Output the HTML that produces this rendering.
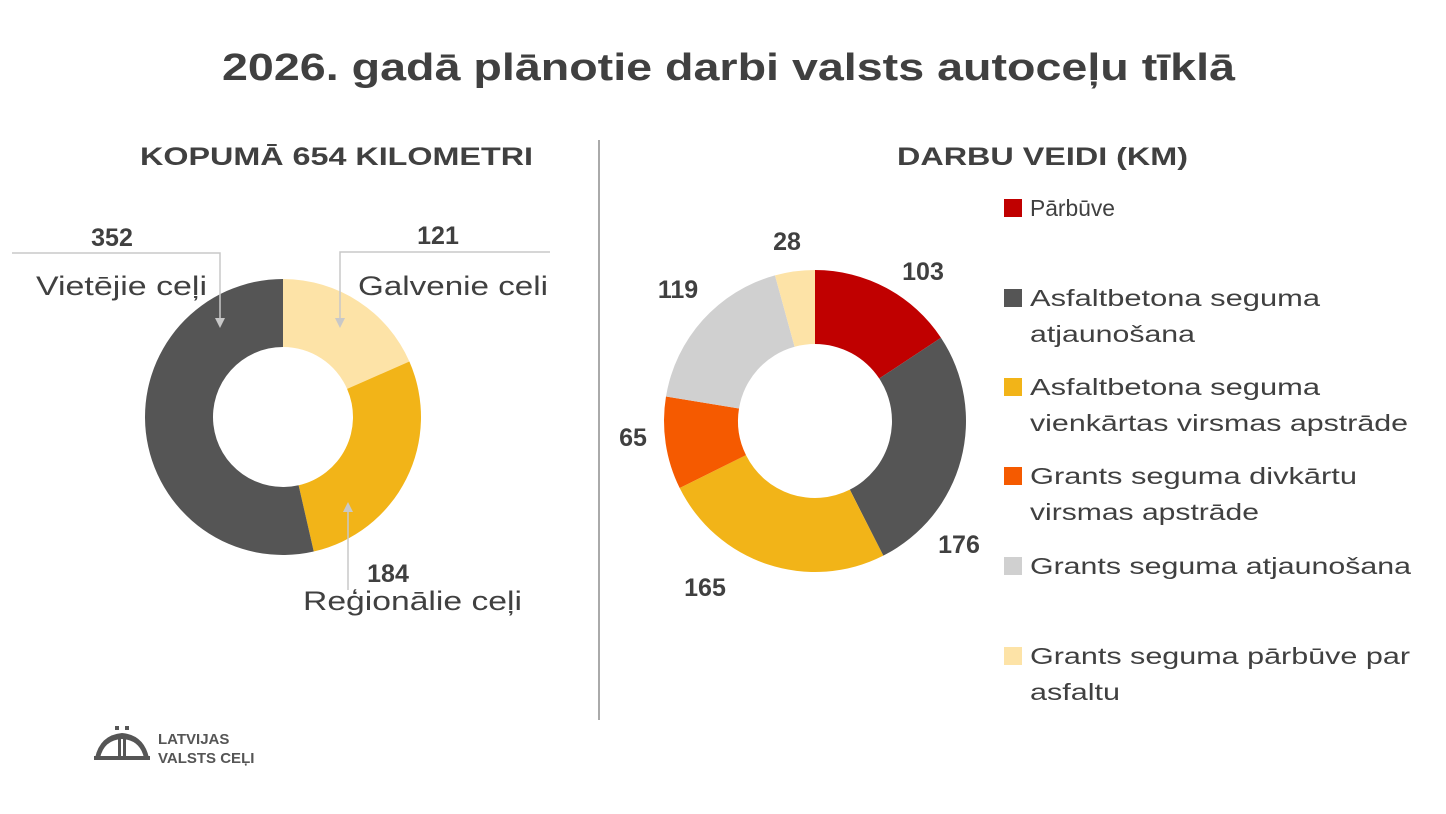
<!DOCTYPE html>
<html><head><meta charset="utf-8"><style>
body{margin:0;background:#fff;width:1446px;height:814px;overflow:hidden;font-family:"Liberation Sans",sans-serif}
svg{display:block}
</style></head><body>
<svg id="s" width="1446" height="814" xmlns="http://www.w3.org/2000/svg" font-family="Liberation Sans, sans-serif">
<text x="222" y="80" font-size="38" font-weight="bold" fill="#404040" textLength="1013" lengthAdjust="spacingAndGlyphs">2026. gadā plānotie darbi valsts autoceļu tīklā</text>
<text x="140" y="165" font-size="25" font-weight="bold" fill="#404040" textLength="393" lengthAdjust="spacingAndGlyphs">KOPUMĀ 654 KILOMETRI</text>
<text x="897" y="165" font-size="25" font-weight="bold" fill="#404040" textLength="291" lengthAdjust="spacingAndGlyphs">DARBU VEIDI (KM)</text>
<line x1="599" y1="140" x2="599" y2="720" stroke="#aaa" stroke-width="2"/>
<g id="d1"></g><g id="d2"></g>
<g stroke="#c8c8c8" stroke-width="1.5" fill="none">
<polyline points="12,253 220,253 220,322"/>
<polyline points="550,252 340,252 340,322"/>
<line x1="348" y1="510" x2="348" y2="590"/>
</g>
<g fill="#c8c8c8">
<polygon points="215,318 225,318 220,328"/>
<polygon points="335,318 345,318 340,328"/>
<polygon points="343,512 353,512 348,502"/>
</g>
<g font-size="25" font-weight="bold" fill="#404040">
<text x="112" y="246" text-anchor="middle">352</text>
<text x="438" y="244" text-anchor="middle">121</text>
<text x="388" y="582" text-anchor="middle">184</text>
<text x="787" y="250" text-anchor="middle">28</text>
<text x="923" y="280" text-anchor="middle">103</text>
<text x="959" y="553" text-anchor="middle">176</text>
<text x="705" y="596" text-anchor="middle">165</text>
<text x="633" y="446" text-anchor="middle">65</text>
<text x="678" y="298" text-anchor="middle">119</text>
</g>
<g font-size="27" fill="#404040">
<text x="36" y="295" textLength="171" lengthAdjust="spacingAndGlyphs">Vietējie ceļi</text>
<text x="358" y="295" textLength="190" lengthAdjust="spacingAndGlyphs">Galvenie celi</text>
<text x="303" y="610" textLength="219" lengthAdjust="spacingAndGlyphs">Reģionālie ceļi</text>
</g>
<g font-size="23" fill="#404040">
<rect x="1004" y="199" width="18" height="18" fill="#c00000"/><text x="1030" y="216" textLength="85" lengthAdjust="spacingAndGlyphs">Pārbūve</text>
<rect x="1004" y="289" width="18" height="18" fill="#555"/><text x="1030" y="306" textLength="290" lengthAdjust="spacingAndGlyphs">Asfaltbetona seguma</text><text x="1030" y="342" textLength="165" lengthAdjust="spacingAndGlyphs">atjaunošana</text>
<rect x="1004" y="378" width="18" height="18" fill="#f2b418"/><text x="1030" y="395" textLength="290" lengthAdjust="spacingAndGlyphs">Asfaltbetona seguma</text><text x="1030" y="431" textLength="378" lengthAdjust="spacingAndGlyphs">vienkārtas virsmas apstrāde</text>
<rect x="1004" y="467" width="18" height="18" fill="#f55a00"/><text x="1030" y="484" textLength="327" lengthAdjust="spacingAndGlyphs">Grants seguma divkārtu</text><text x="1030" y="520" textLength="229" lengthAdjust="spacingAndGlyphs">virsmas apstrāde</text>
<rect x="1004" y="557" width="18" height="18" fill="#d0d0d0"/><text x="1030" y="574" textLength="381" lengthAdjust="spacingAndGlyphs">Grants seguma atjaunošana</text>
<rect x="1004" y="647" width="18" height="18" fill="#fde3a7"/><text x="1030" y="664" textLength="380" lengthAdjust="spacingAndGlyphs">Grants seguma pārbūve par</text><text x="1030" y="700" textLength="90" lengthAdjust="spacingAndGlyphs">asfaltu</text>
</g>
<g fill="#555">
<text x="158" y="744" font-size="15" font-weight="bold">LATVIJAS</text>
<text x="158" y="763" font-size="15" font-weight="bold">VALSTS CEĻI</text>
<path d="M95 758 Q100 735 122 733 Q144 735 149 758 L144 758 Q140 740 122 739 Q104 740 100 758Z"/>
<rect x="94" y="756" width="56" height="4"/>
<rect x="115" y="726" width="4" height="4"/><rect x="125" y="726" width="4" height="4"/>
<rect x="118" y="738" width="3" height="20"/><rect x="123" y="738" width="3" height="20"/>
</g>
</svg>
<script>
function donut(id,cx,cy,R,r,vals,cols){
 var t=vals.reduce((a,b)=>a+b,0),a=0,g=document.getElementById(id),h='';
 vals.forEach(function(v,i){
  var a0=a/t*2*Math.PI,a1=(a+v)/t*2*Math.PI;a+=v;
  function p(rad,an){return [cx+rad*Math.sin(an),cy-rad*Math.cos(an)];}
  var l=(a1-a0)>Math.PI?1:0,o0=p(R,a0),o1=p(R,a1),i1=p(r,a1),i0=p(r,a0);
  h+='<path fill="'+cols[i]+'" d="M'+o0+' A'+R+','+R+' 0 '+l+' 1 '+o1+' L'+i1+' A'+r+','+r+' 0 '+l+' 0 '+i0+'Z"/>';
 });
 g.innerHTML=h;
}
donut('d1',283,417,138,70,[121,184,352],['#fde3a7','#f2b418','#555555']);
donut('d2',815,421,151,77,[103,176,165,65,119,28],['#c00000','#555555','#f2b418','#f55a00','#d0d0d0','#fde3a7']);
</script>
</body></html>
